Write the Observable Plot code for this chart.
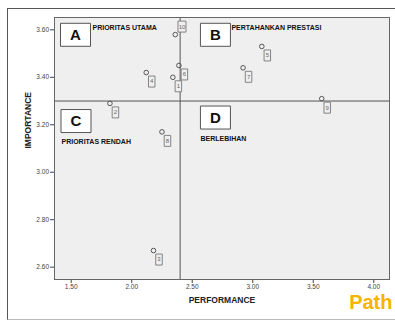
<!DOCTYPE html>
<html>
<head>
<meta charset="utf-8">
<script src="https://cdn.jsdelivr.net/npm/d3@7"></script>
<script src="https://cdn.jsdelivr.net/npm/@observablehq/plot@0.6"></script>
<style>
  html, body { margin: 0; padding: 0; background: #fff; }
  #wrap { position: relative; width: 395px; height: 320px; overflow: hidden; font-family: "Liberation Sans", Arial, sans-serif; }
  #border { position: absolute; left: 7px; top: 8px; width: 400px; height: 312px; border: 1px solid #555; border-bottom-color: #bbb; box-sizing: border-box; }
  #chart { position: absolute; left: 0; top: 0; }
</style>
</head>
<body>
<div id="wrap"><div id="border"></div><div id="chart"></div></div>
<script>
// Data
const ids = [1, 2, 3, 4, 5, 6, 7, 8, 9, 10];
const performance = [2.34, 1.82, 2.18, 2.12, 3.075, 2.39, 2.92, 2.25, 3.57, 2.36];
const importance = [3.40, 3.29, 2.67, 3.42, 3.53, 3.45, 3.44, 3.17, 3.31, 3.58];
const meanPerformance = 2.40;
const meanImportance = 3.30;
const xTicks = [1.5, 2.0, 2.5, 3.0, 3.5, 4.0];
const yTicks = [2.6, 2.8, 3.0, 3.2, 3.4, 3.6];
const quadrantLetters = ["A", "B", "C", "D"];
const quadrantNames = ["PRIORITAS UTAMA", "PERTAHANKAN PRESTASI", "PRIORITAS RENDAH", "BERLEBIHAN"];

const xDomain = [1.362, 4.13];
const yDomain = [2.548, 3.652];

const points = ids.map((id, i) => ({id, x: performance[i], y: importance[i]}));

// quadrant anchors: left quadrants anchored at frame left, right quadrants at the performance mean line
const anchorX = [xDomain[0], meanPerformance, xDomain[0], meanPerformance];
const anchorY = [yDomain[1], yDomain[1], meanImportance, meanImportance];
// pixel offsets (layout)
const layout = [
  {bdx: 21, bdy: 17.3, tdx: 38, tdy: 10.5},
  {bdx: 35.3, bdy: 17.3, tdx: 51.3, tdy: 10.5},
  {bdx: 21.5, bdy: 20, tdx: 7, tdy: 41},
  {bdx: 35.3, bdy: 16.5, tdx: 20.3, tdy: 38}
];

const rectSymbol = (w, h) => ({draw(ctx) { ctx.rect(-w / 2, -h / 2, w, h); }});

const quadrantMarks = quadrantLetters.flatMap((letter, i) => {
  const d = [{x: anchorX[i], y: anchorY[i], letter, name: quadrantNames[i]}];
  const L = layout[i];
  return [
    Plot.dot(d, {x: "x", y: "y", symbol: rectSymbol(30, 23), r: 1, fill: "#fff", stroke: "#555", strokeWidth: 1, dx: L.bdx, dy: L.bdy}),
    Plot.text(d, {x: "x", y: "y", text: "letter", dx: L.bdx, dy: L.bdy + 0.5, fontSize: 15, fontWeight: "bold", fill: "#111", fontFamily: "Liberation Sans, Arial, sans-serif"}),
    Plot.text(d, {x: "x", y: "y", text: "name", dx: L.tdx, dy: L.tdy, textAnchor: "start", fontSize: 7, fontWeight: "bold", fill: "#111", letterSpacing: "-0.2px", fontFamily: "Liberation Sans, Arial, sans-serif"})
  ];
});

const normalPts = points.filter(d => d.id !== 10);
const topPts = points.filter(d => d.id === 10);

const chart = Plot.plot({
  width: 395,
  height: 320,
  marginLeft: 54,
  marginRight: 6,
  marginTop: 17,
  marginBottom: 41,
  style: {background: "transparent", fontFamily: "Liberation Sans, Arial, sans-serif"},
  x: {domain: xDomain, ticks: xTicks, tickFormat: d3.format(".2f")},
  y: {domain: yDomain, ticks: yTicks, tickFormat: d3.format(".2f")},
  marks: [
    Plot.frame({fill: "#efefef"}),
    Plot.axisX({ticks: xTicks, tickFormat: d3.format(".2f"), tickSize: 4, tickPadding: 1, fontSize: 6.5, fill: "#444", stroke: "#444", label: null}),
    Plot.axisY({ticks: yTicks, tickFormat: d3.format(".2f"), tickSize: 4, tickPadding: 1.5, fontSize: 6.5, fill: "#444", stroke: "#444", label: null}),
    Plot.ruleX([meanPerformance], {stroke: "#555", strokeWidth: 1}),
    Plot.ruleY([meanImportance], {stroke: "#555", strokeWidth: 1}),
    Plot.frame({stroke: "#666", strokeWidth: 1}),
    ...quadrantMarks,
    Plot.dot(points, {x: "x", y: "y", r: 2.3, stroke: "#555", strokeWidth: 1, fill: "none"}),
    Plot.dot(normalPts, {x: "x", y: "y", symbol: rectSymbol(6.5, 11), r: 1, fill: "#efefef", stroke: "#777", strokeWidth: 0.9, dx: 5.5, dy: 9}),
    Plot.text(normalPts, {x: "x", y: "y", text: "id", dx: 5.5, dy: 9, fontSize: 6, fill: "#666"}),
    Plot.dot(topPts, {x: "x", y: "y", symbol: rectSymbol(8, 11), r: 1, fill: "#efefef", stroke: "#777", strokeWidth: 0.9, dx: 6.7, dy: -8}),
    Plot.text(topPts, {x: "x", y: "y", text: "id", dx: 6.7, dy: -8, fontSize: 6, fill: "#666"}),
    Plot.text(["IMPORTANCE"], {frameAnchor: "left", dx: -26, rotate: -90, fontSize: 8.5, fontWeight: "bold", fill: "#222"}),
    Plot.text(["PERFORMANCE"], {frameAnchor: "bottom", dy: 23, fontSize: 8.5, fontWeight: "bold", fill: "#222"}),
    Plot.text(["Path"], {frameAnchor: "bottom-right", textAnchor: "end", dx: 3, dy: 29.5, fontSize: 20, fontWeight: "bold", fill: "#f6b400", letterSpacing: "-0.8px", fontFamily: "Liberation Sans, Arial, sans-serif"})
  ]
});
document.getElementById("chart").appendChild(chart);
</script>
</body>
</html>
